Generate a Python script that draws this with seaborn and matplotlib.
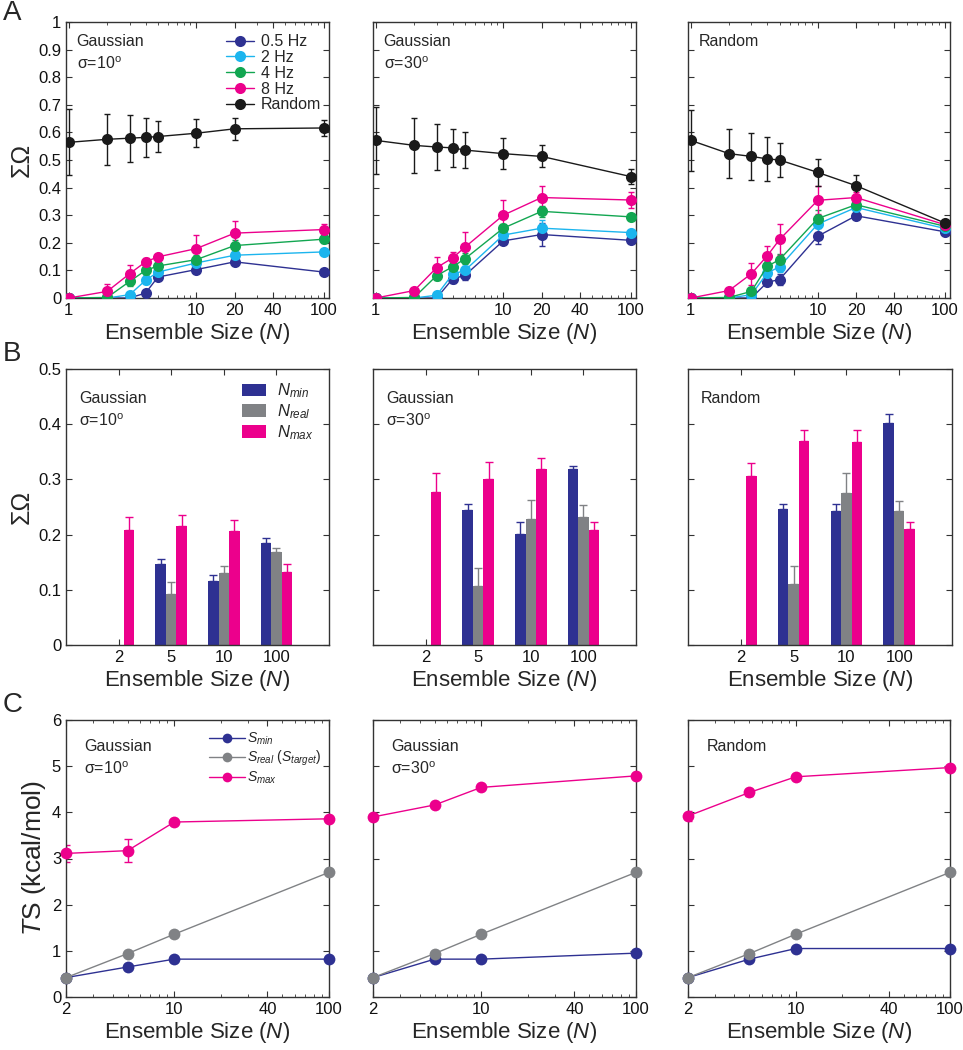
import numpy as np
import pandas as pd
import matplotlib
matplotlib.use('Agg')
import matplotlib.pyplot as plt
import seaborn as sns
from matplotlib.ticker import FixedLocator, NullFormatter, LogLocator, FuncFormatter
from matplotlib.patches import Patch
from matplotlib.lines import Line2D

# ---------------- data ----------------
# Row A: sum Omega vs ensemble size, per frequency
N_A = [1, 2, 3, 4, 5, 10, 20, 100]
A_series = ['0.5 Hz', '2 Hz', '4 Hz', '8 Hz', 'Random']
A_titles = ['Gaussian\n\u03c3=10$^{\\mathrm{o}}$', 'Gaussian\n\u03c3=30$^{\\mathrm{o}}$', 'Random']

a1_05 = [0, 0, 0, 0.018, 0.076, 0.103, 0.131, 0.094]
a1_2 = [0, 0, 0.012, 0.064, 0.094, 0.127, 0.155, 0.167]
a1_4 = [0, 0.002, 0.060, 0.100, 0.116, 0.139, 0.190, 0.213]
a1_8 = [0, 0.024, 0.088, 0.131, 0.149, 0.179, 0.235, 0.248]
a1_r = [0.564, 0.575, 0.579, 0.582, 0.585, 0.597, 0.613, 0.616]
a1_05e = [0, 0, 0.003, 0.010, 0.010, 0.010, 0.010, 0.008]
a1_2e = [0, 0, 0.010, 0.015, 0.012, 0.012, 0.012, 0.010]
a1_4e = [0, 0.005, 0.015, 0.015, 0.015, 0.015, 0.020, 0.012]
a1_8e = [0, 0.025, 0.030, 0.015, 0.010, 0.050, 0.045, 0.020]
a1_re = [0.12, 0.093, 0.085, 0.070, 0.057, 0.050, 0.040, 0.030]

a2_05 = [0, 0, 0, 0.069, 0.082, 0.207, 0.230, 0.209]
a2_2 = [0, 0, 0.010, 0.086, 0.100, 0.228, 0.253, 0.237]
a2_4 = [0, 0.002, 0.081, 0.113, 0.142, 0.253, 0.314, 0.294]
a2_8 = [0, 0.027, 0.110, 0.145, 0.184, 0.300, 0.364, 0.355]
a2_r = [0.571, 0.553, 0.547, 0.544, 0.536, 0.523, 0.513, 0.440]
a2_05e = [0, 0, 0.003, 0.015, 0.015, 0.012, 0.040, 0.010]
a2_2e = [0, 0, 0.010, 0.020, 0.015, 0.015, 0.030, 0.010]
a2_4e = [0, 0.003, 0.015, 0.020, 0.020, 0.015, 0.020, 0.012]
a2_8e = [0, 0.010, 0.040, 0.020, 0.055, 0.055, 0.040, 0.030]
a2_re = [0.12, 0.10, 0.085, 0.070, 0.065, 0.055, 0.040, 0.028]

a3_05 = [0, 0, 0, 0.057, 0.067, 0.224, 0.298, 0.240]
a3_2 = [0, 0, 0.012, 0.091, 0.113, 0.268, 0.328, 0.252]
a3_4 = [0, 0.002, 0.024, 0.115, 0.139, 0.288, 0.338, 0.260]
a3_8 = [0, 0.027, 0.088, 0.153, 0.212, 0.354, 0.364, 0.266]
a3_r = [0.571, 0.523, 0.513, 0.504, 0.500, 0.455, 0.407, 0.272]
a3_05e = [0, 0, 0.003, 0.010, 0.020, 0.030, 0.010, 0.010]
a3_2e = [0, 0, 0.005, 0.015, 0.020, 0.030, 0.010, 0.010]
a3_4e = [0, 0.003, 0.010, 0.020, 0.020, 0.030, 0.015, 0.010]
a3_8e = [0, 0.010, 0.040, 0.035, 0.055, 0.050, 0.020, 0.010]
a3_re = [0.11, 0.09, 0.085, 0.080, 0.060, 0.050, 0.040, 0.010]

A_vals = [[a1_05, a1_2, a1_4, a1_8, a1_r],
          [a2_05, a2_2, a2_4, a2_8, a2_r],
          [a3_05, a3_2, a3_4, a3_8, a3_r]]
A_errs = [[a1_05e, a1_2e, a1_4e, a1_8e, a1_re],
          [a2_05e, a2_2e, a2_4e, a2_8e, a2_re],
          [a3_05e, a3_2e, a3_4e, a3_8e, a3_re]]

# Row B: bars
B_sizes = ['2', '5', '10', '100']
B_kinds = ['$N_{min}$', '$N_{real}$', '$N_{max}$']
b1_min = [0, 0.147, 0.116, 0.184]
b1_real = [0, 0.092, 0.130, 0.168]
b1_max = [0.209, 0.215, 0.207, 0.132]
b1_min_e = [0, 0.008, 0.010, 0.009]
b1_real_e = [0, 0.022, 0.013, 0.008]
b1_max_e = [0.023, 0.020, 0.019, 0.015]

b2_min = [0, 0.245, 0.201, 0.319]
b2_real = [0, 0.106, 0.229, 0.232]
b2_max = [0.278, 0.300, 0.318, 0.209]
b2_min_e = [0, 0.011, 0.021, 0.006]
b2_real_e = [0, 0.033, 0.033, 0.022]
b2_max_e = [0.033, 0.031, 0.020, 0.013]

b3_min = [0, 0.246, 0.242, 0.402]
b3_real = [0, 0.110, 0.276, 0.242]
b3_max = [0.306, 0.369, 0.367, 0.211]
b3_min_e = [0, 0.010, 0.014, 0.016]
b3_real_e = [0, 0.033, 0.036, 0.018]
b3_max_e = [0.023, 0.020, 0.022, 0.012]

B_vals = [[b1_min, b1_real, b1_max], [b2_min, b2_real, b2_max], [b3_min, b3_real, b3_max]]
B_errs = [[b1_min_e, b1_real_e, b1_max_e], [b2_min_e, b2_real_e, b2_max_e], [b3_min_e, b3_real_e, b3_max_e]]

# Row C: entropy
N_C = [2, 5, 10, 100]
C_series = ['$S_{min}$', '$S_{real}$ ($S_{target}$)', '$S_{max}$']
c1_min = [0.42, 0.65, 0.82, 0.82]
c1_real = [0.42, 0.94, 1.36, 2.70]
c1_max = [3.11, 3.17, 3.79, 3.86]
c1_max_e = [0.18, 0.25, 0, 0]
c2_min = [0.42, 0.82, 0.82, 0.95]
c2_real = [0.42, 0.94, 1.36, 2.70]
c2_max = [3.90, 4.16, 4.54, 4.79]
c2_max_e = [0, 0, 0, 0]
c3_min = [0.42, 0.82, 1.05, 1.05]
c3_real = [0.42, 0.94, 1.36, 2.70]
c3_max = [3.92, 4.43, 4.77, 4.97]
c3_max_e = [0.10, 0.08, 0, 0]
C_vals = [[c1_min, c1_real, c1_max], [c2_min, c2_real, c2_max], [c3_min, c3_real, c3_max]]
C_errs = [c1_max_e, c2_max_e, c3_max_e]

# ---------------- style ----------------
NAVY = '#2e3192'
CYAN = '#1cb5ee'
GREEN = '#12a651'
PINK = '#ec008c'
BLACK = '#1a1a1a'
GRAY = '#808285'
A_colors = [NAVY, CYAN, GREEN, PINK, BLACK]
B_colors = [NAVY, GRAY, PINK]
C_colors = [NAVY, GRAY, PINK]

sns.set_style('ticks')
plt.rcParams['font.family'] = ['Liberation Sans', 'DejaVu Sans']
plt.rcParams['mathtext.fontset'] = 'custom'
plt.rcParams['mathtext.rm'] = 'Liberation Sans'
plt.rcParams['mathtext.it'] = 'Liberation Sans:italic'
plt.rcParams['mathtext.bf'] = 'Liberation Sans:bold'
plt.rcParams['axes.linewidth'] = 1.0
plt.rcParams['axes.edgecolor'] = '#333333'

W, H = 963, 1050
fig = plt.figure(figsize=(W / 100, H / 100), dpi=100)

def add_ax(x0, x1, ytop, ybot):
    return fig.add_axes([x0 / W, 1 - ybot / H, (x1 - x0) / W, (ybot - ytop) / H])

cols = [(66, 329), (373, 636), (688, 950)]
TICK = 12
LAB = 16

def style_ticks(ax):
    ax.tick_params(which='both', direction='in', top=True, right=True, labelsize=TICK,
                   colors='#333333', labelcolor='#111111')
    ax.tick_params(which='major', length=4, width=0.8)
    ax.tick_params(which='minor', length=2.5, width=0.6)

fmt = FuncFormatter(lambda v, p: f'{v:g}')

# ---- Row A ----
for i, (x0, x1) in enumerate(cols):
    ax = add_ax(x0, x1, 22, 298)
    for s, name in enumerate(A_series):
        vals = A_vals[i][s]
        errs = A_errs[i][s]
        ax.errorbar(N_A, vals, yerr=errs, fmt='none', ecolor=A_colors[s], elinewidth=1.0,
                    capsize=2.5, capthick=1.0, zorder=2)
        sns.lineplot(x=N_A, y=vals, ax=ax, color=A_colors[s], marker='o', markersize=8,
                     markeredgewidth=0, linewidth=1.0, legend=False, zorder=3)
    ax.set_xscale('log')
    ax.set_xlim(0.95, 110)
    ax.set_ylim(0, 1)
    ax.xaxis.set_major_locator(FixedLocator([1, 10, 20, 40, 100]))
    ax.xaxis.set_major_formatter(fmt)
    ax.xaxis.set_minor_locator(LogLocator(base=10, subs=np.arange(2, 10)))
    ax.xaxis.set_minor_formatter(NullFormatter())
    ax.yaxis.set_major_locator(FixedLocator(np.round(np.arange(0, 1.01, 0.1), 1)))
    ax.yaxis.set_major_formatter(fmt)
    style_ticks(ax)
    ax.set_xlabel('Ensemble Size ($N$)', fontsize=LAB, labelpad=2)
    if i == 0:
        ax.set_ylabel('\u03a3\u03a9', fontsize=18, labelpad=3)
        handles = [Line2D([0], [0], color=c, marker='o', markersize=8, markeredgewidth=0, lw=1.0)
                   for c in A_colors]
        ax.legend(handles, A_series, loc='upper right', frameon=False, fontsize=11.5,
                  handlelength=1.8, handletextpad=0.4, labelspacing=0.05,
                  borderaxespad=0.1, bbox_to_anchor=(1.0, 0.985))
    else:
        ax.set_ylabel('')
        ax.tick_params(labelleft=False)
    ax.text(0.04, 0.955, A_titles[i], transform=ax.transAxes, ha='left', va='top',
            fontsize=11.5, linespacing=1.45)

# ---- Row B ----
for i, (x0, x1) in enumerate(cols):
    if i == 2:
        x0, x1 = 688, 952
    ax = add_ax(x0, x1, 369, 645)
    rows = []
    for k, kind in enumerate(B_kinds):
        for j, size in enumerate(B_sizes):
            rows.append({'size': size, 'kind': kind, 'value': B_vals[i][k][j]})
    df = pd.DataFrame(rows)
    sns.barplot(data=df, x='size', y='value', hue='kind', order=B_sizes, hue_order=B_kinds,
                palette=B_colors, width=0.6, errorbar=None, ax=ax, linewidth=0,
                saturation=1, legend=False)
    bar_conts = list(ax.containers)
    for k, cont in enumerate(bar_conts):
        xs = [b.get_x() + b.get_width() / 2 for b in cont]
        hs = [b.get_height() for b in cont]
        errs = B_errs[i][k]
        keep = [j for j in range(len(xs)) if hs[j] > 0]
        ax.errorbar([xs[j] for j in keep], [hs[j] for j in keep],
                    yerr=[[0] * len(keep), [errs[j] for j in keep]],
                    fmt='none', ecolor=B_colors[k], elinewidth=1.0, capsize=3, capthick=1.0)
    ax.set_xlim(-1, 4)
    ax.set_ylim(0, 0.5)
    ax.yaxis.set_major_locator(FixedLocator([0, 0.1, 0.2, 0.3, 0.4, 0.5]))
    ax.yaxis.set_major_formatter(fmt)
    style_ticks(ax)
    ax.set_xlabel('Ensemble Size ($N$)', fontsize=LAB, labelpad=2)
    if i == 0:
        ax.set_ylabel('\u03a3\u03a9', fontsize=18, labelpad=3)
        handles = [Patch(facecolor=c, edgecolor='none') for c in B_colors]
        ax.legend(handles, B_kinds, loc='upper right', frameon=False, fontsize=12,
                  handlelength=1.4, handleheight=0.8, handletextpad=0.7, labelspacing=0.12,
                  borderaxespad=0.2, bbox_to_anchor=(0.98, 0.99))
    else:
        ax.set_ylabel('')
        ax.tick_params(labelleft=False)
    ax.text(0.05, 0.92, A_titles[i], transform=ax.transAxes, ha='left', va='top',
            fontsize=11.5, linespacing=1.45)

# ---- Row C ----
for i, (x0, x1) in enumerate(cols):
    ax = add_ax(x0, x1, 720, 997)
    for s, name in enumerate(C_series):
        vals = C_vals[i][s]
        if s == 2:
            ax.errorbar(N_C, vals, yerr=C_errs[i], fmt='none', ecolor=C_colors[s],
                        elinewidth=1.0, capsize=3, capthick=1.0, zorder=2)
        sns.lineplot(x=N_C, y=vals, ax=ax, color=C_colors[s], marker='o', markersize=8.5,
                     markeredgewidth=0, linewidth=1.0, legend=False, zorder=3,
                     clip_on=False)
    ax.set_xscale('log')
    ax.set_xlim(2, 100)
    ax.set_ylim(0, 6)
    ax.xaxis.set_major_locator(FixedLocator([2, 10, 40, 100]))
    ax.xaxis.set_major_formatter(fmt)
    ax.xaxis.set_minor_locator(LogLocator(base=10, subs=np.arange(2, 10)))
    ax.xaxis.set_minor_formatter(NullFormatter())
    ax.yaxis.set_major_locator(FixedLocator([0, 1, 2, 3, 4, 5, 6]))
    ax.yaxis.set_major_formatter(fmt)
    style_ticks(ax)
    ax.set_xlabel('Ensemble Size ($N$)', fontsize=LAB, labelpad=2)
    if i == 0:
        ax.set_ylabel('$T$S (kcal/mol)', fontsize=19, labelpad=3)
        handles = [Line2D([0], [0], color=c, marker='o', markersize=7, markeredgewidth=0, lw=1.0)
                   for c in C_colors]
        ax.legend(handles, C_series, loc='upper right', frameon=False, fontsize=10,
                  handlelength=2.6, handletextpad=0.2, labelspacing=0.1,
                  borderaxespad=0.1, bbox_to_anchor=(1.0, 0.985))
    else:
        ax.set_ylabel('')
        ax.tick_params(labelleft=False)
    ax.text(0.07, 0.93, A_titles[i], transform=ax.transAxes, ha='left', va='top',
            fontsize=11.5, linespacing=1.45)

# panel letters
fig.text(3 / W, 1 - 0 / H, 'A', fontsize=20, ha='left', va='top')
fig.text(3 / W, 1 - 341 / H, 'B', fontsize=20, ha='left', va='top')
fig.text(3 / W, 1 - 692 / H, 'C', fontsize=20, ha='left', va='top')

fig.savefig('out.png', dpi=100)
